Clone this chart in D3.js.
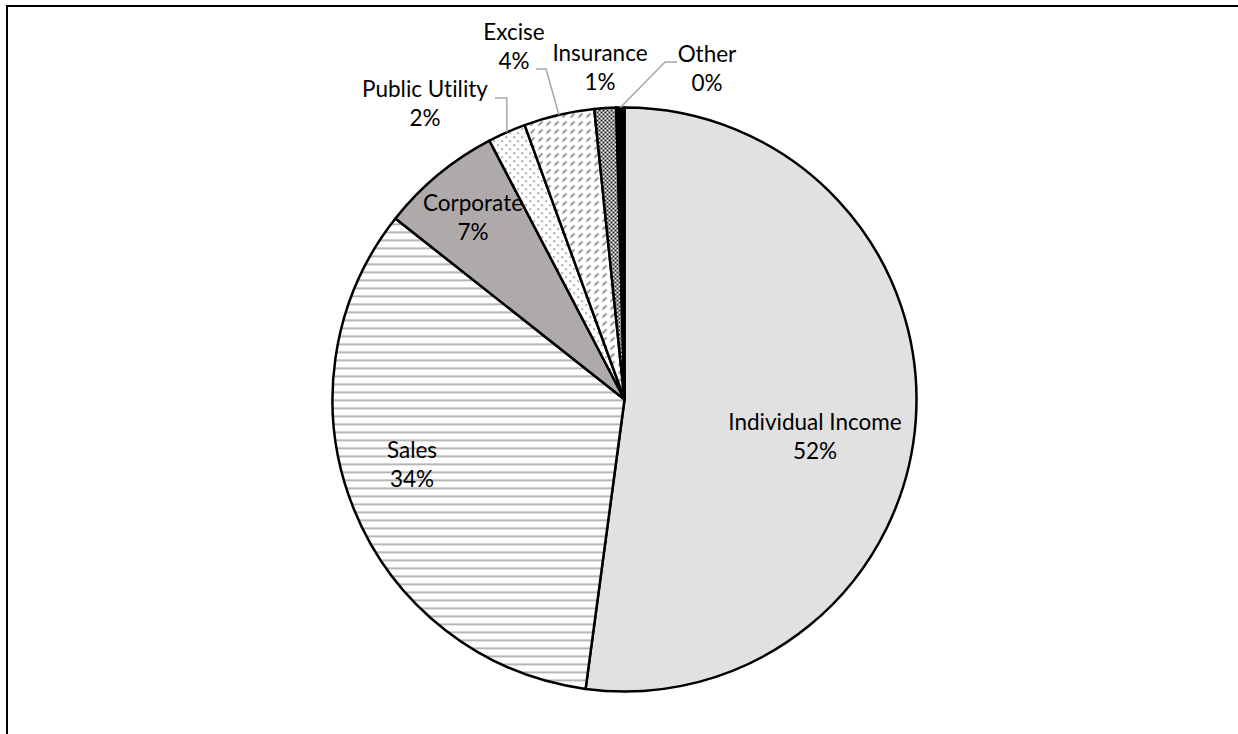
<!DOCTYPE html>
<html>
<head>
<meta charset="utf-8">
<script src="https://cdn.jsdelivr.net/npm/d3@7"></script>
<style>
  body { margin: 0; background: #fff; }
  svg text { font-family: Lato, "Liberation Sans", sans-serif; font-size: 22.5px; fill: #000;
             font-variant-ligatures: none; }
</style>
</head>
<body>
<svg id="pie"></svg>
<script>
// Chart data (tax revenue share)
var categories = ["Individual Income", "Sales", "Corporate", "Public Utility", "Excise", "Insurance", "Other"];
var values = [52.1, 33.5, 6.7, 2.1, 3.9, 1.2, 0.45];

// fill for each slice, same order as categories
var fills = ["#e1e1e1", "url(#hlines)", "#aeaaaa", "url(#dots)", "url(#dashdiag)", "url(#checker)", "#000"];

// where each label sits (text centre x, first baseline y)
var labelPos = [
    [815, 430], [412, 458], [473, 211], [425, 97], [514, 40], [600, 61], [707, 62]
];
// leader lines: [label side x, y, elbow x] or null
var leaders = [null, null, null, [495, 98, null], [536, 69, 546], null, [677, 62, 665]];

var screen = {width: 1238, height: 734};
var center = {x: 624.5, y: 399.5};
var radius = 292;

var svg = d3.select("#pie")
    .attr("width", screen.width)
    .attr("height", screen.height);

// Patterns used by the slices
var defs = svg.append("defs");

var hl = defs.append("pattern").attr("id", "hlines")
    .attr("patternUnits", "userSpaceOnUse").attr("width", 8).attr("height", 8);
hl.append("rect").attr("width", 8).attr("height", 8).attr("fill", "#fff");
hl.append("rect").attr("y", 0).attr("width", 8).attr("height", 1.6).attr("fill", "#a5a2a2");

var dots = defs.append("pattern").attr("id", "dots")
    .attr("patternUnits", "userSpaceOnUse").attr("width", 8).attr("height", 8);
dots.append("rect").attr("width", 8).attr("height", 8).attr("fill", "#fff");
dots.append("rect").attr("x", 1).attr("y", 1).attr("width", 1.2).attr("height", 1.2).attr("fill", "#222");
dots.append("rect").attr("x", 5).attr("y", 5).attr("width", 1.2).attr("height", 1.2).attr("fill", "#222");

var dd = defs.append("pattern").attr("id", "dashdiag")
    .attr("patternUnits", "userSpaceOnUse").attr("width", 8).attr("height", 8);
dd.append("rect").attr("width", 8).attr("height", 8).attr("fill", "#fff");
dd.append("line").attr("x1", 2).attr("y1", 6).attr("x2", 6).attr("y2", 2)
    .attr("stroke", "#555").attr("stroke-width", 1.1);

var ck = defs.append("pattern").attr("id", "checker")
    .attr("patternUnits", "userSpaceOnUse").attr("width", 4).attr("height", 4);
ck.append("rect").attr("width", 4).attr("height", 4).attr("fill", "#fff");
ck.append("rect").attr("x", 0).attr("y", 0).attr("width", 2).attr("height", 2).attr("fill", "#222");
ck.append("rect").attr("x", 2).attr("y", 2).attr("width", 2).attr("height", 2).attr("fill", "#222");

// Frame (only the left and top edges are in view)
svg.append("rect")
    .attr("x", 7).attr("y", 6)
    .attr("width", screen.width + 20).attr("height", screen.height + 20)
    .attr("fill", "none").attr("stroke", "#000").attr("stroke-width", 2);

var rows = categories.map(function(c, i) { return {name: c, value: values[i], idx: i}; });
var total = d3.sum(values);

var pie = d3.pie().sort(null).value(function(d) { return d.value; });
var arc = d3.arc().innerRadius(0).outerRadius(radius);
var edge = d3.arc().innerRadius(radius).outerRadius(radius);

var g = svg.append("g")
    .attr("transform", "translate(" + center.x + "," + center.y + ")");

var slices = pie(rows);

g.selectAll("path.slice")
    .data(slices)
    .enter()
    .append("path")
    .classed("slice", true)
    .attr("d", arc)
    .attr("fill", function(d) { return fills[d.data.idx]; })
    .attr("stroke", "#000")
    .attr("stroke-width", 2.5)
    .attr("stroke-linejoin", "round");

// Leader lines
slices.forEach(function(d) {
    var l = leaders[d.data.idx];
    if (!l) return;
    var p = edge.centroid(d);
    var px = p[0] + center.x, py = p[1] + center.y;
    var ex = l[2] === null ? px : l[2];
    svg.append("polyline")
        .attr("points", [[l[0], l[1]], [ex, l[1]], [px, py]].join(" "))
        .attr("fill", "none")
        .attr("stroke", "#a6a6a6")
        .attr("stroke-width", 1.5);
});

// Labels
var labels = svg.append("g").classed("labels", true);
slices.forEach(function(d) {
    var pos = labelPos[d.data.idx];
    var t = labels.append("text")
        .attr("text-anchor", "middle")
        .attr("x", pos[0])
        .attr("y", pos[1]);
    t.append("tspan").attr("x", pos[0]).text(d.data.name);
    t.append("tspan").attr("x", pos[0]).attr("dy", 29)
        .text(Math.round(d.data.value / total * 100) + "%");
});
</script>
</body>
</html>
